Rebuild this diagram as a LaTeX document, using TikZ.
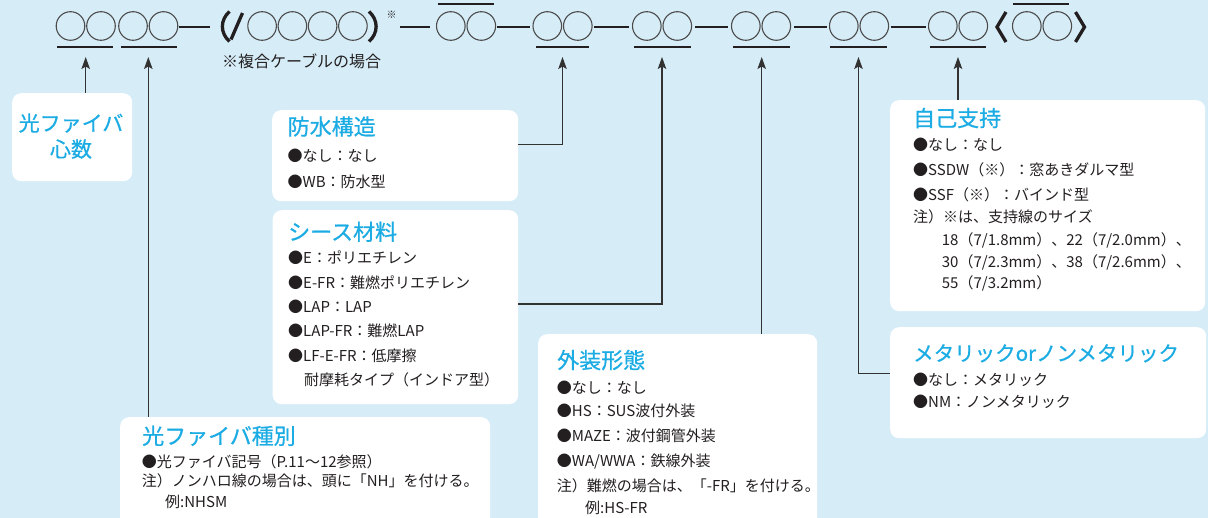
\documentclass[tikz,border=0pt]{standalone}
\usepackage{fontspec}
\setmainfont{Noto Sans CJK JP}
\newfontfamily\ttlfont{Noto Sans CJK JP}[FakeBold=0.7]
\usetikzlibrary{arrows.meta}
\definecolor{bg}{RGB}{214,237,248}
\definecolor{ttl}{RGB}{28,172,228}
\definecolor{txt}{RGB}{35,31,32}
\definecolor{gly}{RGB}{75,75,75}
\definecolor{lnc}{RGB}{50,50,50}
\begin{document}
\begin{tikzpicture}[x=1pt,y=-1pt,
  box/.style={fill=white, rounded corners=9pt, inner sep=0pt, anchor=north west},
  ttlt/.style={anchor=base west, inner sep=0pt, text=ttl, font=\ttlfont\fontsize{22}{22}\selectfont},
  itm/.style={anchor=base west, inner sep=0pt, text=txt, font=\fontsize{15}{15}\selectfont},
  circ/.style={draw=gly, line width=1.1pt},
  bar/.style={draw=txt, line width=2pt},
  dashbar/.style={draw=txt, line width=2.8pt},
  brk/.style={draw=txt, line width=3.3pt},
  arr/.style={draw=lnc, line width=1.1pt, -{Stealth[length=12pt,width=8.5pt,inset=2.5pt]}}]
\useasboundingbox (0,0) rectangle (1208,518);
\clip (0,0) rectangle (1208,518);
\fill[bg] (0,0) rectangle (1208,518);

% ---- top code row ----
\foreach \cx in {70.5,101,133,163.5,262.1,292.4,322.6,352.9,450.8,481.3,547.3,577.8,646.8,677.3,745.8,776.3,843.8,874.3,942.8,973.3,1026.8,1057.3}
  \draw[circ] (\cx,26) circle[radius=14.3];
\foreach \a/\b in {179/210,400/430,497/530,594/629,695/728,794/827,891/926}
  \draw[dashbar] (\a,27) -- (\b,27);
\foreach \a/\b in {57.3/113.3,121/176.7,536/589,634/691,733/790,830/887,929.5/986}
  \draw[bar] (\a,47.5) -- (\b,47.5);
\foreach \a/\b in {438/494,1013/1069}
  \draw[bar] (\a,4.5) -- (\b,4.5);
% brackets
\draw[brk] (229.5,11.5) .. controls (220,20) and (220,33) .. (229.5,41.5);
\draw[brk] (369,11.5) .. controls (378.5,20) and (378.5,33) .. (369,41.5);
\draw[brk] (242.5,13) -- (231,39.5);
\draw[brk] (1006,12) -- (997,27) -- (1006,42);
\draw[brk] (1075.5,12) -- (1084.5,27) -- (1075.5,42);
\node[inner sep=0pt, text=txt, font=\fontsize{10}{10}\selectfont] (sup) at (391.5,15) {※};
\node[anchor=base west, inner sep=0pt, text=txt, font=\fontsize{16}{16}\selectfont] (note) at (222,67.8) {※複合ケーブルの場合};

% ---- arrow tips ----
\coordinate (t1) at (85.7,57);
\coordinate (t2) at (148.3,57);
\coordinate (t3) at (562.5,57);
\coordinate (t4) at (662,57);
\coordinate (t5) at (761.7,57);
\coordinate (t6) at (858.5,57);
\coordinate (t7) at (958,57);
\coordinate (h3) at (0,144.4);
\coordinate (h4) at (0,304);
\coordinate (h6) at (0,373.3);

% ---- boxes ----
\node[box, minimum width=120, minimum height=88] (b1) at (12,93) {};
\node[box, minimum width=246, minimum height=91] (b2) at (272,110) {};
\node[box, minimum width=245.5, minimum height=194] (b3) at (272.5,210) {};
\node[box, minimum width=370, minimum height=130] (b4) at (120,417) {};
\node[box, minimum width=279, minimum height=210] (b5) at (538,334) {};
\node[box, minimum width=315, minimum height=211] (b6) at (890,100) {};
\node[box, minimum width=316, minimum height=111] (b7) at (890,327) {};

% ---- connectors ----
\draw[arr] (t1 |- b1.north) -- (t1);
\draw[arr] (t2 |- b4.north) -- (t2);
\draw[arr] (b2.east |- h3) -| (t3);
\draw[arr] (b3.east |- h4) -| (t4);
\draw[arr] (t5 |- b5.north) -- (t5);
\draw[arr] (b7.west |- h6) -| (t6);
\draw[arr] (t7 |- b6.north) -- (t7);

% ---- box 1 ----
\node[anchor=base, inner sep=0pt, text=ttl, font=\ttlfont\fontsize{21}{21}\selectfont] (b1a) at (71,131) {光ファイバ};
\node[anchor=base, inner sep=0pt, text=ttl, font=\ttlfont\fontsize{21}{21}\selectfont] (b1b) at (71,157) {心数};

% ---- box 2 ----
\node[ttlt] (b2t) at (287.5,134.9) {防水構造};
\node[itm] (b2i1) at (287.5,161.5) {●なし：なし};
\node[itm] (b2i2) at (287.5,187.3) {●WB：防水型};

% ---- box 3 ----
\node[ttlt] (b3t) at (288,240.1) {シース材料};
\node[itm] (b3i1) at (288,263.7) {●E：ポリエチレン};
\node[itm] (b3i2) at (288,288.1) {●E-FR：難燃ポリエチレン};
\node[itm] (b3i3) at (288,312.5) {●LAP：LAP};
\node[itm] (b3i4) at (288,336.9) {●LAP-FR：難燃LAP};
\node[itm] (b3i5) at (288,361.3) {●LF-E-FR：低摩擦};
\node[itm] (b3i6) at (304,385.7) {耐摩耗タイプ（インドア型）};

% ---- box 4 ----
\node[ttlt] (b4t) at (142,444.2) {光ファイバ種別};
\node[itm] (b4i1) at (141.7,467.4) {●光ファイバ記号（P.11〜12参照）};
\node[itm] (b4i2) at (141.7,486.4) {注）ノンハロ線の場合は、頭に「NH」を付ける。};
\node[itm] (b4i3) at (165,507.7) {例:NHSM};

% ---- box 5 ----
\node[ttlt] (b5t) at (557,368.4) {外装形態};
\node[itm] (b5i1) at (556.7,394) {●なし：なし};
\node[itm] (b5i2) at (556.7,416.4) {●HS：SUS波付外装};
\node[itm] (b5i3) at (556.7,441.7) {●MAZE：波付鋼管外装};
\node[itm] (b5i4) at (556.7,466.7) {●WA/WWA：鉄線外装};
\node[itm] (b5i5) at (556.7,491.4) {注）難燃の場合は、「-FR」を付ける。};
\node[itm] (b5i6) at (585,514) {例:HS-FR};

% ---- box 6 ----
\node[ttlt] (b6t) at (913,126.4) {自己支持};
\node[itm] (b6i1) at (913,150.7) {●なし：なし};
\node[itm] (b6i2) at (913,175.7) {●SSDW（※）：窓あきダルマ型};
\node[itm] (b6i3) at (913,200.7) {●SSF（※）：バインド型};
\node[itm] (b6i4) at (913,222.4) {注）※は、支持線のサイズ};
\node[itm] (b6i5) at (941.7,245.7) {18（7/1.8mm）、22（7/2.0mm）、};
\node[itm] (b6i6) at (941.7,267.4) {30（7/2.3mm）、38（7/2.6mm）、};
\node[itm] (b6i7) at (941.7,289) {55（7/3.2mm）};

% ---- box 7 ----
\node[ttlt, font=\ttlfont\fontsize{20.5}{20.5}\selectfont] (b7t) at (913,360.9) {メタリックorノンメタリック};
\node[itm] (b7i1) at (913,385.7) {●なし：メタリック};
\node[itm] (b7i2) at (913,407.4) {●NM：ノンメタリック};
\end{tikzpicture}
\end{document}
